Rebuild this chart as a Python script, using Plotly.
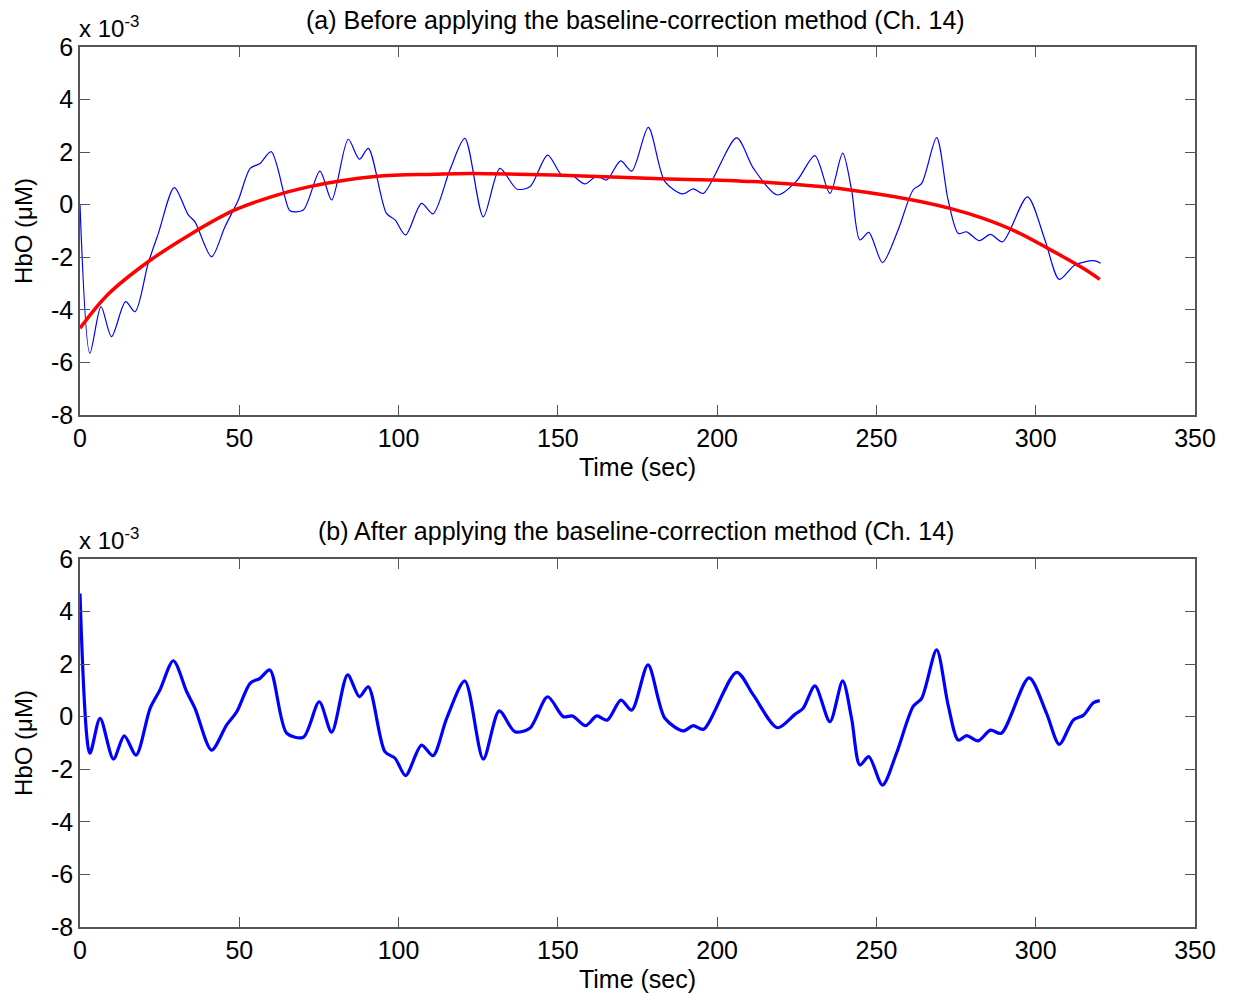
import plotly.graph_objects as go

# ---- Data (HbO in units of 1e-3 uM) ----
t_raw = [0, 3.1, 6.6, 9.9, 14.3, 17.3, 21.4, 24.6, 29.6, 34.0, 36.1, 41.3, 45.5, 49.7, 53.4, 56.5,
         60.0, 64.3, 65.9, 70.1, 75.3, 79.0, 84.2, 87.7, 90.5, 96.2, 98.9, 102.2, 107.2, 110.8,
         116.1, 120.8, 126.6, 131.8, 137.1, 141.2, 146.8, 151.2, 154.3, 158.5, 162.2, 165.3,
         169.7, 173.2, 178.4, 183.6, 189.2, 192.5, 195.7, 206.1, 211.4, 218.9, 225.0, 230.7,
         235.4, 239.4, 242.2, 244.8, 247.6, 251.9, 256.8, 261.5, 264.2, 268.9, 272.5, 275.7,
         278.3, 282.3, 285.8, 289.6, 297.4, 302.9, 307.4, 312.3, 318.3, 320.4]
hbo_raw = [0.0, -5.65, -3.88, -5.02, -3.69, -4.07, -2.23, -1.09, 0.65, -0.39, -0.65, -1.98, -0.84,
           0.18, 1.38, 1.57, 2.02, 0.30, -0.23, -0.20, 1.28, 0.18, 2.49, 1.73, 2.14, -0.33, -0.58,
           -1.15, 0.05, -0.35, 1.32, 2.52, -0.46, 1.38, 0.60, 0.68, 1.89, 1.13, 1.13, 0.79, 1.09,
           0.94, 1.67, 1.28, 2.94, 0.88, 0.41, 0.60, 0.43, 2.54, 1.38, 0.37, 0.91, 1.87, 0.43,
           1.96, 0.56, -1.34, -1.05, -2.20, -0.96, 0.56, 0.81, 2.55, 0.18, -1.09, -1.03, -1.37,
           -1.13, -1.41, 0.30, -1.34, -2.84, -2.29, -2.13, -2.23]

t_fit = [0, 8.9, 21.4, 35.0, 48.6, 60.0, 71.7, 92.6, 111.4, 122.4, 148.6, 180.0, 211.4, 232.3,
         241.7, 260.5, 273.1, 283.5, 294.0, 304.4, 314.9, 320.1]
hbo_fit = [-4.70, -3.40, -2.17, -1.10, -0.20, 0.30, 0.68, 1.07, 1.16, 1.19, 1.13, 1.00, 0.88, 0.69,
           0.56, 0.20, -0.14, -0.52, -1.03, -1.70, -2.42, -2.84]

t_cor = [0, 3.1, 6.3, 10.5, 13.9, 17.6, 22.0, 25.1, 29.3, 33.5, 36.1, 41.3, 46.0, 49.2, 53.4, 56.5,
         59.6, 64.9, 70.1, 75.1, 79.0, 84.0, 87.7, 90.5, 95.7, 98.9, 102.2, 107.2, 110.8, 115.1,
         120.8, 126.6, 131.6, 136.5, 141.2, 146.8, 151.7, 154.6, 158.7, 162.2, 165.5, 169.8, 173.2,
         178.3, 183.6, 189.4, 192.5, 195.7, 206.1, 211.4, 218.9, 224.4, 227.0, 230.7, 235.4, 239.4,
         242.2, 244.8, 247.6, 251.9, 256.3, 261.5, 264.2, 268.9, 272.5, 275.7, 278.3, 281.9, 285.8,
         289.2, 297.9, 303.4, 307.4, 311.8, 315.0, 318.1, 320.1]
hbo_cor = [4.69, -1.39, -0.06, -1.61, -0.73, -1.46, 0.32, 1.02, 2.13, 0.95, 0.32, -1.27, -0.32, 0.19,
           1.27, 1.46, 1.78, -0.63, -0.78, 0.57, -0.59, 1.59, 0.76, 1.14, -1.33, -1.58, -2.24,
           -1.08, -1.48, -0.06, 1.36, -1.61, 0.22, -0.57, -0.44, 0.76, 0.00, 0.03, -0.34, 0.03,
           -0.13, 0.63, 0.25, 1.97, -0.06, -0.54, -0.34, -0.48, 1.69, 0.82, -0.42, 0.09, 0.32,
           1.17, -0.19, 1.36, -0.06, -1.84, -1.52, -2.60, -1.39, 0.38, 0.70, 2.54, 0.44, -0.89,
           -0.72, -0.92, -0.51, -0.63, 1.48, 0.13, -1.05, -0.13, 0.06, 0.53, 0.61]

x_ticks = [0, 50, 100, 150, 200, 250, 300, 350]
y_ticks = [-8, -6, -4, -2, 0, 2, 4, 6]
y_ticktext = ["-8", "-6", "-4", "-2", "0", "2", "4", "6"]

FONT = "Liberation Sans, Arial, sans-serif"
AX = "#555555"
FS = 25

fig = go.Figure()
fig.add_trace(go.Scatter(x=t_raw, y=hbo_raw, mode="lines", line=dict(color="#0000ff", width=1.2, shape="spline", smoothing=0.8),
                         xaxis="x", yaxis="y", showlegend=False))
fig.add_trace(go.Scatter(x=t_fit, y=hbo_fit, mode="lines", line=dict(color="#ff0000", width=3.5, shape="spline", smoothing=1.0),
                         xaxis="x", yaxis="y", showlegend=False))
fig.add_trace(go.Scatter(x=t_cor, y=hbo_cor, mode="lines", line=dict(color="#0000ff", width=3.2, shape="spline", smoothing=0.8),
                         xaxis="x2", yaxis="y2", showlegend=False))

xdom = [80 / 1234, 1195 / 1234]
ydom1 = [(993 - 415) / 993, (993 - 47) / 993]
ydom2 = [(993 - 927) / 993, (993 - 559) / 993]

def xax(anchor):
    return dict(domain=xdom, anchor=anchor, range=[0, 350], tickvals=x_ticks, ticks="inside", ticklen=10,
                tickcolor=AX, linecolor=AX, linewidth=1.5, mirror="ticks", showline=True, showgrid=False,
                zeroline=False, automargin=False, tickfont=dict(family=FONT, size=FS, color="black"),
                title=dict(text="Time (sec)", font=dict(family=FONT, size=FS, color="black"), standoff=8))

def yax(anchor, dom):
    return dict(domain=dom, anchor=anchor, range=[-8, 6], tickvals=y_ticks, ticktext=y_ticktext,
                ticks="inside", ticklen=10,
                tickcolor=AX, linecolor=AX, linewidth=1.5, mirror="ticks", showline=True, showgrid=False,
                zeroline=False, automargin=False, tickfont=dict(family=FONT, size=FS, color="black"),
                title=dict(text="HbO (μM)", font=dict(family=FONT, size=FS - 1, color="black"), standoff=12))

fig.update_layout(
    width=1234, height=993, margin=dict(l=0, r=0, t=0, b=0),
    paper_bgcolor="white", plot_bgcolor="white",
    xaxis=xax("y"), yaxis=yax("x", ydom1),
    xaxis2=xax("y2"), yaxis2=yax("x2", ydom2),
    font=dict(family=FONT, color="black"),
)

annos = [
    dict(text="(a) Before applying the baseline-correction method (Ch. 14)", x=636 / 1234, y=1 - 20 / 993),
    dict(text="(b) After applying the baseline-correction method (Ch. 14)", x=636 / 1234, y=1 - 531 / 993),
]
for a in annos:
    fig.add_annotation(text=a["text"], x=a["x"], y=a["y"], xref="paper", yref="paper", showarrow=False,
                       xanchor="center", yanchor="middle", font=dict(family=FONT, size=FS, color="black"))
for yy in [27, 539]:
    fig.add_annotation(text="x 10<sup>-3</sup>", x=77 / 1234, y=1 - yy / 993, xref="paper", yref="paper",
                       showarrow=False, xanchor="left", yanchor="middle",
                       font=dict(family=FONT, size=FS - 1, color="black"))

fig.write_html("out.html", config={"displayModeBar": False},
               post_script="document.body.style.margin='0';document.body.style.overflow='hidden';")
